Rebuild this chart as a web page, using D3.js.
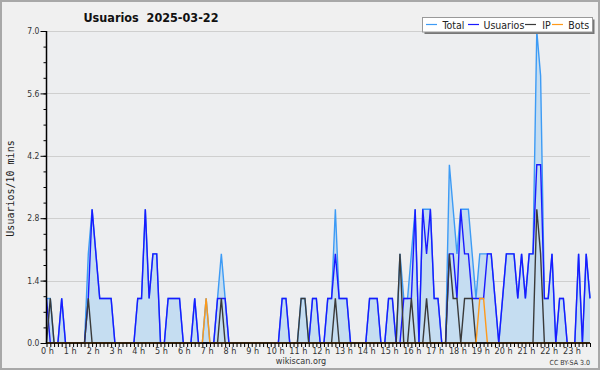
<!DOCTYPE html>
<html><head><meta charset="utf-8">
<script src="https://cdn.jsdelivr.net/npm/d3@7"></script>
<style>
html,body{margin:0;padding:0;background:#f0f0f0;}
svg{display:block;}
text{font-family:"DejaVu Sans Condensed","DejaVu Sans",sans-serif;}
text.mono{font-family:"DejaVu Sans Mono",monospace;}
</style></head>
<body>
<svg id="c" width="600" height="370"></svg>
<script>
// 10-minute slots, 144 per day
const usuarios = [
  1,0,0,0,1,0,0,0,0,0,0,1,
  3,2,1,1,1,1,0,0,0,0,0,0,
  1,1,3,1,2,2,0,0,1,1,1,1,
  0,0,0,1,0,0,0,0,0,1,1,1,
  0,0,0,0,0,0,0,0,0,0,0,0,
  0,0,1,1,0,0,0,0,0,0,1,1,
  0,0,1,1,2,1,1,1,0,0,0,0,
  0,1,1,1,0,0,1,1,0,0,1,1,
  1,3,0,3,2,3,1,1,0,0,2,2,
  1,3,2,2,1,1,1,1,2,2,1,0,
  1,2,2,2,1,2,1,2,2,4,4,1,
  1,2,0,1,1,0,0,0,2,0,2,1
];
const ip = [
  0,1,0,0,0,0,0,0,0,0,0,1,
  0,0,0,0,0,0,0,0,0,0,0,0,
  0,0,0,0,0,0,0,0,0,0,0,0,
  0,0,0,0,0,0,0,0,0,0,1,0,
  0,0,0,0,0,0,0,0,0,0,0,0,
  0,0,0,0,0,0,0,1,1,0,0,0,
  0,0,0,0,1,0,0,0,0,0,0,0,
  0,0,0,0,0,0,0,0,0,2,0,0,
  1,0,0,0,1,0,0,0,0,0,2,1,
  1,0,1,1,1,0,0,0,0,0,0,0,
  0,0,0,0,0,0,0,0,0,3,2,0,
  0,0,0,0,0,0,0,0,0,0,0,0
];
const bots = [
  0,0,0,0,0,0,0,0,0,0,0,0,
  0,0,0,0,0,0,0,0,0,0,0,0,
  0,0,0,0,0,0,0,0,0,0,0,0,
  0,0,0,0,0,0,1,0,0,0,0,0,
  0,0,0,0,0,0,0,0,0,0,0,0,
  0,0,0,0,0,0,0,0,0,0,0,0,
  0,0,0,0,0,0,0,0,0,0,0,0,
  0,0,0,0,0,0,0,0,0,0,0,0,
  0,0,0,0,0,0,0,0,0,0,0,0,
  0,0,0,0,0,0,1,1,0,0,0,0,
  0,0,0,0,0,0,0,0,0,0,0,0,
  0,0,0,0,0,0,0,0,0,0,0,0
];
const total = [
  1,1,0,0,1,0,0,0,0,0,0,2,
  3,2,1,1,1,1,0,0,0,0,0,0,
  1,1,3,1,2,2,0,0,1,1,1,1,
  0,0,0,1,0,0,1,0,0,1,2,1,
  0,0,0,0,0,0,0,0,0,0,0,0,
  0,0,1,1,0,0,0,1,1,0,1,1,
  0,0,1,1,3,1,1,1,0,0,0,0,
  0,1,1,1,0,0,1,1,0,2,1,1,
  2,3,0,3,3,3,1,1,0,0,4,3,
  2,3,3,3,2,1,2,2,2,2,1,0,
  1,2,2,2,1,2,1,2,2,7,6,1,
  1,2,0,1,1,0,0,0,2,0,2,1
];
const hourLabels = ["0 h","1 h","2 h","3 h","4 h","5 h","6 h","7 h","8 h","9 h","10 h","11 h",
  "12 h","13 h","14 h","15 h","16 h","17 h","18 h","19 h","20 h","21 h","22 h","23 h"];
const yTicks = [0, 1.4, 2.8, 4.2, 5.6, 7.0];
const legendItems = ["Total","Usuarios","IP","Bots"];
const titleText = "Usuarios  2025-03-22";

const colors = {Total:"#3d9bf5", Usuarios:"#1a1aff", IP:"#3a3a3a", Bots:"#ff9a1a"};

const svg = d3.select("#c");
const W = 600, H = 370;
const pL = 46.5, pR = 590, pT = 31, pB = 343;

svg.append("rect").attr("x",1).attr("y",1).attr("width",W-2).attr("height",H-2)
  .attr("fill","#f0f0f0").attr("stroke","#a8a8a8").attr("stroke-width",2);

const x = d3.scaleLinear().domain([0, 143]).range([pL, pR]);
const y = d3.scaleLinear().domain([0, 7]).range([pB, pT]);

// plot background
svg.append("rect").attr("x",pL).attr("y",pT).attr("width",pR-pL).attr("height",pB-pT)
  .attr("fill","#edeef0");

// grid
svg.append("g").selectAll("line").data(yTicks.filter(d=>d>0)).join("line")
  .attr("x1",pL).attr("x2",pR).attr("y1",d=>Math.round(y(d))+0.5).attr("y2",d=>Math.round(y(d))+0.5)
  .attr("stroke","#cfcfcf").attr("stroke-width",1);

const idx = d3.range(144);
const area = d3.area().x(i=>x(i)).y0(y(0)).y1(i=>y(total[i]));
svg.append("path").datum(idx).attr("d",area).attr("fill","#c5ddf1");

function drawLine(arr, color){
  svg.append("path").datum(idx)
    .attr("d", d3.line().x(i=>x(i)).y(i=>y(arr[i])))
    .attr("fill","none").attr("stroke",color).attr("stroke-width",1.4).attr("stroke-linejoin","miter");
}
drawLine(total, colors.Total);
drawLine(usuarios, colors.Usuarios);
drawLine(ip, colors.IP);
drawLine(bots, colors.Bots);

// axes
const yAxis = d3.axisLeft(y).tickValues(yTicks).tickFormat(d3.format(".1f")).tickSize(6).tickPadding(1);
const gy = svg.append("g").attr("transform",`translate(${pL},0)`).call(yAxis);
gy.select(".domain").remove();
gy.selectAll("text").attr("font-size",8.5).attr("fill","#333");
gy.selectAll("line").attr("stroke","#000");
const yMinor = d3.axisLeft(y).tickValues(d3.range(0, 21).map(k=>k*0.35)).tickFormat("").tickSize(3);
const gym = svg.append("g").attr("transform",`translate(${pL},0)`).call(yMinor);
gym.select(".domain").remove();
gym.selectAll("line").attr("stroke","#000");
svg.append("line").attr("x1",pL).attr("x2",pL).attr("y1",pT).attr("y2",pB+0.5).attr("stroke","#000").attr("stroke-width",1.5);

const xAxis = d3.axisBottom(x).tickValues(d3.range(144)).tickFormat("").tickSize(4);
const gx = svg.append("g").attr("transform",`translate(0,${pB})`).call(xAxis);
gx.select(".domain").remove();
gx.selectAll("line").attr("stroke","#000");
svg.append("line").attr("x1",pL).attr("x2",pR).attr("y1",pB).attr("y2",pB).attr("stroke","#000").attr("stroke-width",1.5);

svg.append("g").selectAll("text").data(hourLabels).join("text")
  .attr("x",(d,i)=>x(i*6)+1).attr("y",pB+11).attr("text-anchor","middle")
  .attr("font-size",9).attr("fill","#333").text(d=>d);

// title
svg.append("text").attr("x",151).attr("y",22).attr("text-anchor","middle")
  .attr("font-size",12.5).attr("font-weight","bold").attr("fill","#111")
  .style("white-space","pre").text(titleText);

// y title
svg.append("text").attr("class","mono").attr("transform","translate(14,188.5) rotate(-90)").attr("text-anchor","middle")
  .attr("font-size",10).attr("fill","#222")
  .text("Usuarios/10 mins");

svg.append("text").attr("x",301).attr("y",364).attr("text-anchor","middle")
  .attr("font-size",9).attr("fill","#333").text("wikiscan.org");
svg.append("text").attr("x",590).attr("y",365).attr("text-anchor","end")
  .attr("font-size",7).attr("fill","#333").text("CC BY-SA 3.0");

// legend
const lg = svg.append("g");
lg.append("rect").attr("x",424.5).attr("y",19.5).attr("width",170).attr("height",14.5).attr("fill","#777");
lg.append("rect").attr("x",422.5).attr("y",17.5).attr("width",170).attr("height",14.5).attr("fill","#fff").attr("stroke","#999");
const lx = [426, 468, 525, 552];
const tx = [442.5, 483.5, 542.3, 568.3];
legendItems.forEach((name,i)=>{
  lg.append("line").attr("x1",lx[i]).attr("x2",lx[i]+11).attr("y1",24.5).attr("y2",24.5)
    .attr("stroke",colors[name]).attr("stroke-width",1.2);
  lg.append("text").attr("x",tx[i]).attr("y",28.5).attr("font-size",10.5).attr("fill","#222").text(name);
});
</script>
</body></html>
